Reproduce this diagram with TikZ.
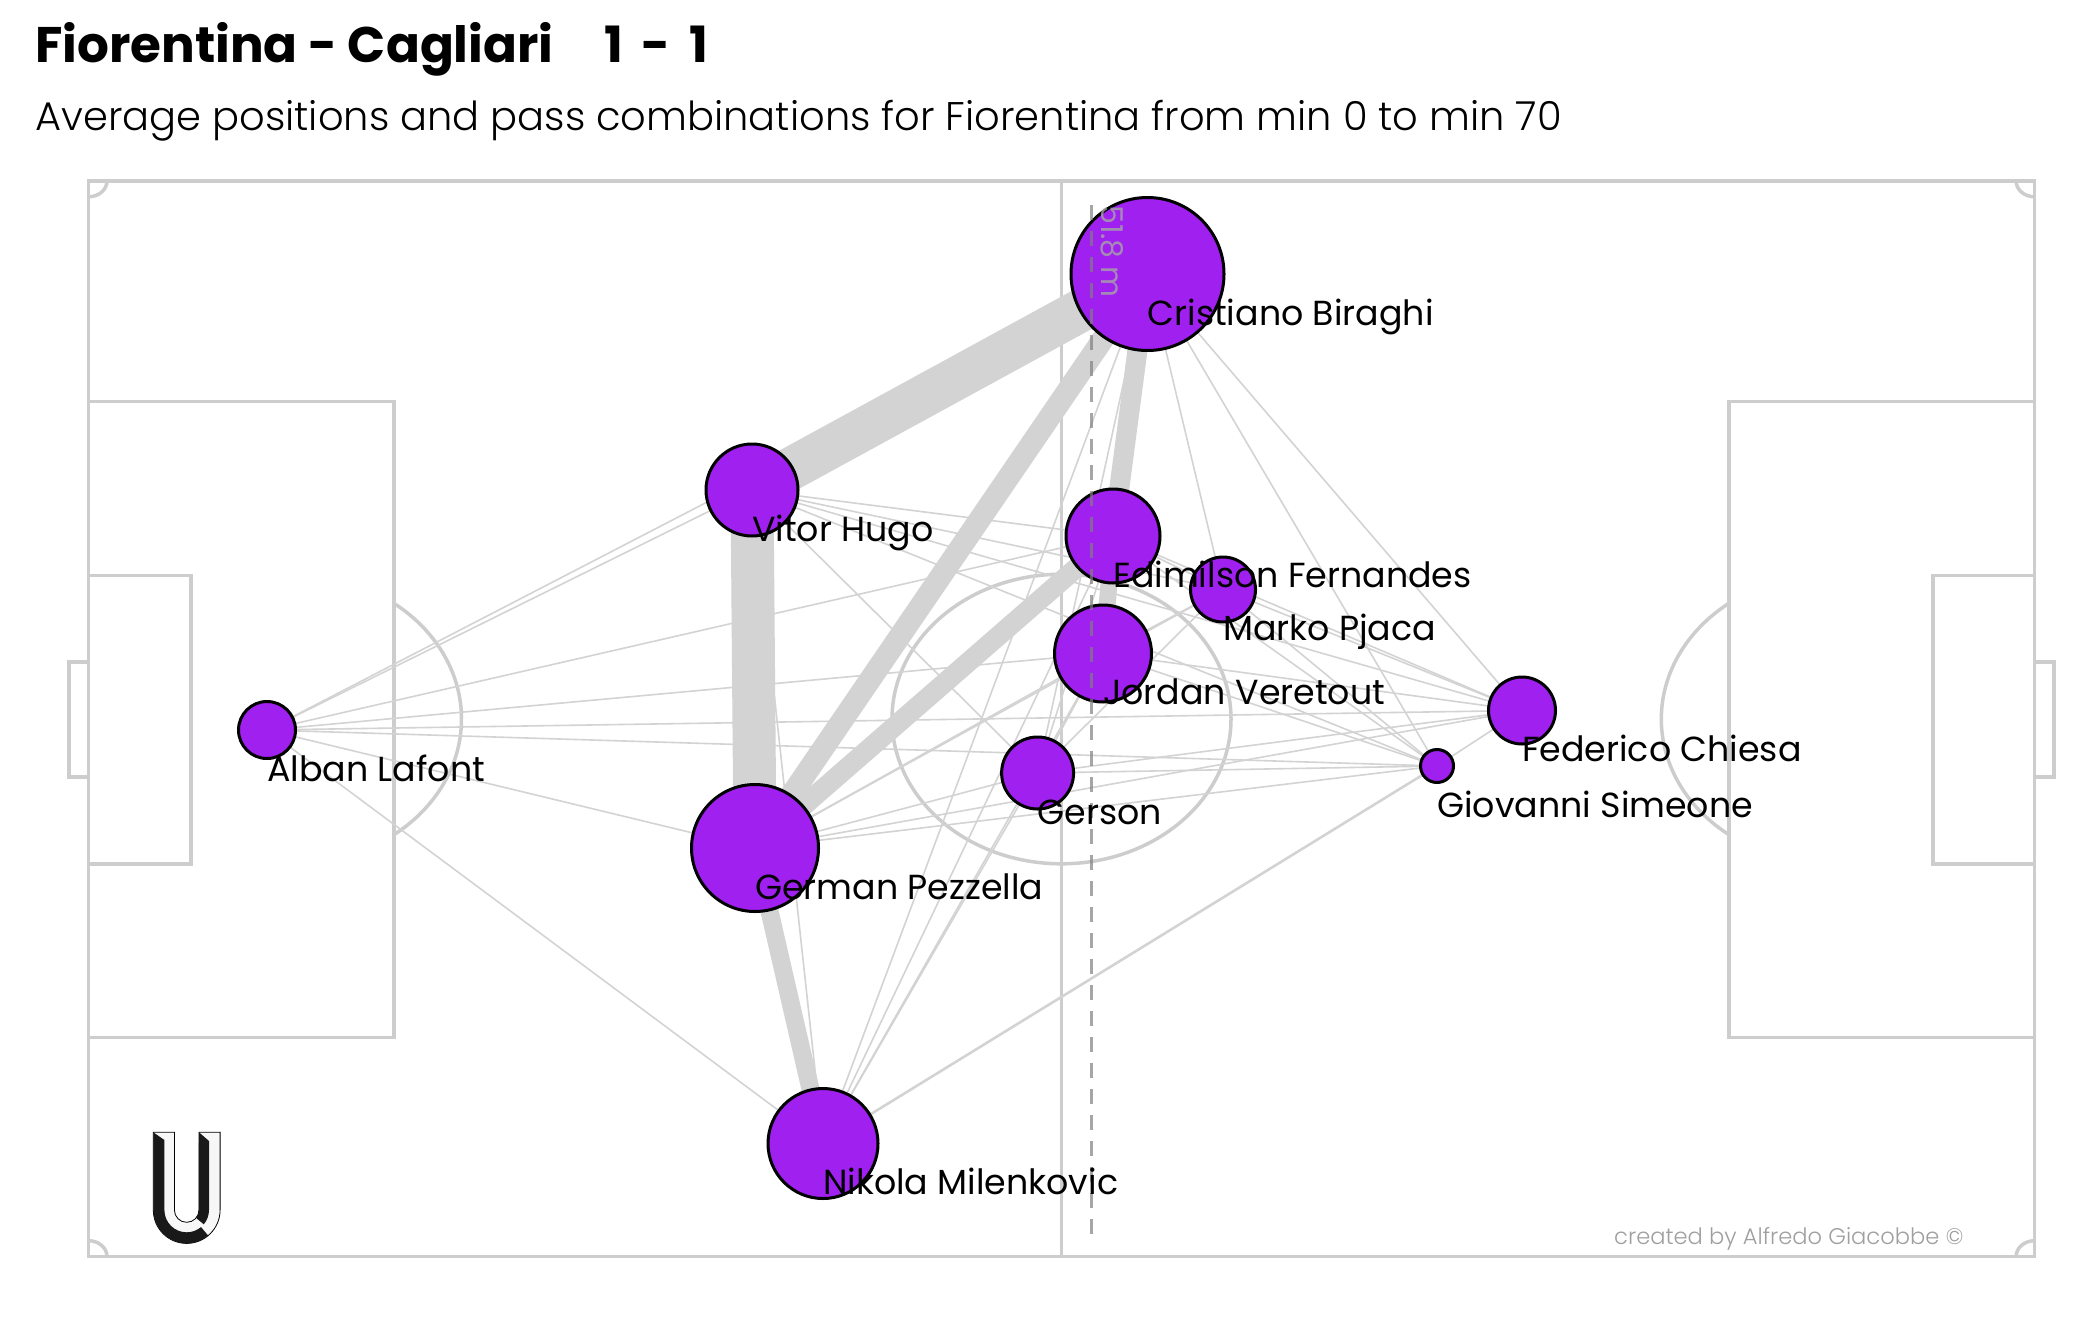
\documentclass[tikz,border=0pt]{standalone}
\usepackage{fontspec}
\setmainfont{Poppins}
\newfontfamily\thinfont{Poppins Light}
\usetikzlibrary{backgrounds}
\definecolor{passgray}{HTML}{D3D3D3}
\definecolor{linegray}{HTML}{CDCDCD}
\definecolor{playerfill}{HTML}{A020F0}
\begin{document}
\begin{tikzpicture}[
    x=1pt, y=-1pt,
    pitch/.style={draw=linegray, line width=3.5pt},
    player/.style={circle, draw=black, line width=3pt, fill=playerfill, minimum size=#1, inner sep=0pt, outer sep=0pt},
    pass/.style={draw=passgray, line width=1.6pt},
    plabel/.style={anchor=base west, yshift=-51pt, inner sep=0pt, font=\fontsize{34.8}{39}\selectfont},
    heading/.style={anchor=base west, inner sep=0pt}
]
    \useasboundingbox (0,0) rectangle (2100,1338);

    \node[player=153pt] (bir) at (1147.5,274) {};
    \node[player=92pt] (hug) at (752,490) {};
    \node[player=94pt] (edi) at (1113,536) {};
    \node[player=65pt] (pja) at (1223,589.5) {};
    \node[player=97pt] (ver) at (1103,653.5) {};
    \node[player=72pt] (ger) at (1037.6,773) {};
    \node[player=67pt] (chi) at (1522,710.5) {};
    \node[player=33pt] (sim) at (1437,766) {};
    \node[player=57pt] (laf) at (267,730) {};
    \node[player=127pt] (pez) at (755,848) {};
    \node[player=110pt] (mil) at (823,1143.5) {};

    \begin{scope}[on background layer]
        \draw[pitch] (88.5,181) rectangle (2034.6,1256.5);
        \draw[pitch] (1061.5,181) -- (1061.5,1256.5);
        \draw[pitch] (1061.5,719) ellipse [x radius=169.5, y radius=144.8];
        \draw[pitch] (88.5,401.7) rectangle (394,1037.4);
        \draw[pitch] (88.5,575.6) rectangle (191,864);
        \draw[pitch] (88.5,662) rectangle (69,777);
        \draw[pitch] (2034.6,401.7) rectangle (1729,1037.4);
        \draw[pitch] (2034.6,575.6) rectangle (1932.8,864);
        \draw[pitch] (2034.6,662) rectangle (2054,777);
        \draw[pitch] (292,719) ++(-53:169.5 and 144.8) arc [start angle=-53, end angle=53, x radius=169.5, y radius=144.8];
        \draw[pitch] (1830.8,719) ++(127:169.5 and 144.8) arc [start angle=127, end angle=233, x radius=169.5, y radius=144.8];
        \draw[pitch] (88.5,181) ++(0:18.5 and 15.8) arc [start angle=0, end angle=90, x radius=18.5, y radius=15.8];
        \draw[pitch] (2034.6,181) ++(90:18.5 and 15.8) arc [start angle=90, end angle=180, x radius=18.5, y radius=15.8];
        \draw[pitch] (2034.6,1256.5) ++(180:18.5 and 15.8) arc [start angle=180, end angle=270, x radius=18.5, y radius=15.8];
        \draw[pitch] (88.5,1256.5) ++(270:18.5 and 15.8) arc [start angle=270, end angle=360, x radius=18.5, y radius=15.8];

        \foreach \a/\b in {laf/hug, laf/bir, laf/edi, laf/ver, laf/chi, laf/sim, laf/pez, laf/mil,
            hug/edi, hug/pja, hug/chi, hug/sim, hug/ger, hug/mil,
            pez/ger, pez/sim, pez/chi, pez/ver, pez/pja,
            mil/ger, mil/ver, mil/edi, mil/bir,
            bir/ger, bir/pja, bir/sim, bir/chi,
            edi/pja, edi/chi, edi/sim, edi/ger,
            ver/pja, ver/chi, ver/sim, ver/ger,
            ger/chi, ger/sim, ger/pja,
            pja/chi, pja/sim, chi/sim}
            \draw[pass] (\a.center) -- (\b.center);
        \draw[pass, line width=2.6pt] (mil.center) -- (sim.center);
        \draw[pass, line width=43pt] (bir.center) -- (hug.center);
        \draw[pass, line width=43pt] (hug.center) -- (pez.center);
        \draw[pass, line width=22pt] (bir.center) -- (pez.center);
        \draw[pass, line width=20pt] (edi.center) -- (pez.center);
        \draw[pass, line width=20pt] (bir.center) -- (edi.center);
        \draw[pass, line width=17pt] (edi.center) -- (ver.center);
        \draw[pass, line width=18pt] (pez.center) -- (mil.center);
    \end{scope}

    \coordinate (widthtop) at (1091.5,205);
    \coordinate (widthbot) at (1091.5,1236);
    \draw[gray, opacity=0.7, line width=2.4pt, dash pattern=on 15pt off 11pt] (widthtop) -- (widthbot);
    \node[rotate=-90, anchor=north west, inner sep=0pt, text=gray!70, opacity=0.8, font=\fontsize{30}{34}\selectfont] (wlabel) at (1124,205) {51.8 m};

    \node[plabel] (lbir) at (bir.center) {Cristiano Biraghi};
    \node[plabel] (lhug) at (hug.center) {Vitor Hugo};
    \node[plabel] (ledi) at (edi.center) {Edimilson Fernandes};
    \node[plabel] (lpja) at (pja.center) {Marko Pjaca};
    \node[plabel] (lver) at (ver.center) {Jordan Veretout};
    \node[plabel] (lger) at (ger.center) {Gerson};
    \node[plabel] (lchi) at (chi.center) {Federico Chiesa};
    \node[plabel] (lsim) at (sim.center) {Giovanni Simeone};
    \node[plabel] (llaf) at (laf.center) {Alban Lafont};
    \node[plabel] (lpez) at (pez.center) {German Pezzella};
    \node[plabel] (lmil) at (mil.center) {Nikola Milenkovic};

    \node[heading, font=\fontsize{50}{56}\bfseries] (title) at (35,63) {Fiorentina - Cagliari\hspace{51pt}1 \hspace{8pt}- \hspace{8pt}1};
    \node[heading, font=\fontsize{40}{46}\thinfont] (subtitle) at (35,130) {Average positions and pass combinations for Fiorentina from min 0 to min 70};
    \node[heading, text=gray!75, font=\fontsize{22.6}{27}\thinfont] (credit) at (1614,1244) {created by Alfredo Giacobbe ©};

    \fill[black!3, draw=black, line width=0.8pt] (153.3,1132.3) -- (153.3,1210) arc [start angle=180, end angle=0, radius=33.4] -- (220.1,1132.3) -- (199,1132.3) -- (199,1210) arc [start angle=0, end angle=180, radius=12.3] -- (174.4,1132.3) -- cycle;
    \fill[black!90] (153.3,1132.3) -- (164.4,1140) -- (164.4,1210) arc [start angle=180, end angle=50, radius=22.3] -- (208.2,1235.6) arc [start angle=50, end angle=180, radius=33.4] -- cycle;
    \fill[black!90] (199,1132.3) -- (209,1141) -- (209,1210) arc [start angle=0, end angle=40, radius=22.3] -- (196.1,1217.9) arc [start angle=40, end angle=0, radius=12.3] -- cycle;
\end{tikzpicture}
\end{document}
